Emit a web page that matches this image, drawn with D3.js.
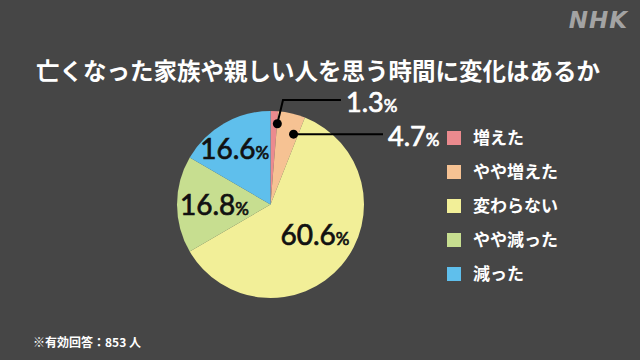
<!DOCTYPE html>
<html><head><meta charset="utf-8">
<script src="https://cdn.jsdelivr.net/npm/d3@7"></script>
<style>
html,body{margin:0;padding:0;background:#464646;}
svg{display:block;}
</style></head>
<body>
<svg id="chart" width="640" height="360"></svg>
<script>
const categories = ["増えた", "やや増えた", "変わらない", "やや減った", "減った"];
const values = [1.3, 4.7, 60.6, 16.8, 16.6];
const colors = ["#eb8a8e", "#f6c293", "#f2ef98", "#c7de90", "#5fbfec"];
const title = "亡くなった家族や親しい人を思う時間に変化はあるか";
const note = "※有効回答：853 人";

const W = 640, H = 360;
const cx = 270.5, cy = 204.5, R = 93.5;
const svg = d3.select("#chart");
svg.append("rect").attr("width", W).attr("height", H).attr("fill", "#464646");

const jp = "'Noto Sans CJK JP', 'Noto Sans', sans-serif";
const num = "Lato, 'Noto Sans', sans-serif";

// NHK logo
svg.append("text").attr("x", 628).attr("y", 28).attr("text-anchor", "end")
  .attr("font-family", "'DejaVu Sans', sans-serif").attr("font-weight", "bold")
  .attr("font-style", "italic").attr("font-size", 23).attr("fill", "#a3a3a3")
  .attr("letter-spacing", 1).text("NHK");

// title
svg.append("text").attr("x", 318).attr("y", 80).attr("text-anchor", "middle")
  .attr("font-family", jp).attr("font-weight", "bold").attr("font-size", 23.5)
  .attr("fill", "#ffffff").text(title);

// pie
const pie = d3.pie().sort(null).value(d => d)(values);
const arc = d3.arc().innerRadius(0).outerRadius(R);
const g = svg.append("g").attr("transform", `translate(${cx},${cy})`);
g.selectAll("path").data(pie).join("path")
  .attr("d", arc).attr("fill", (d, i) => colors[i]);

// inner labels (index, radius, angle tweak in degrees)
const inner = [{i: 2, r: 54, da: -6}, {i: 3, r: 56, da: 0}, {i: 4, r: 66, da: -3}];
inner.forEach(o => {
  const d = pie[o.i];
  const a = (d.startAngle + d.endAngle) / 2 + o.da * Math.PI / 180;
  const x = Math.sin(a) * o.r, y = -Math.cos(a) * o.r;
  const t = g.append("text").attr("x", x).attr("y", y + 10).attr("text-anchor", "middle")
    .attr("font-family", num).attr("font-size", 28).attr("fill", "#111")
    .attr("stroke", "#111").attr("stroke-width", 0.7);
  t.append("tspan").text(values[o.i].toFixed(1));
  t.append("tspan").attr("font-size", 17).text("%");
});

// callouts
const callouts = [
  {i: 0, r: 81, da: 2.5, path: (p) => [[p[0], p[1]], [283 - cx, 100 - cy], [341 - cx, 100 - cy]], tx: 346, ty: 112},
  {i: 1, r: 74, da: 5, path: (p) => [[p[0], p[1]], [383 - cx, p[1]]], tx: 388, ty: 146}
];
callouts.forEach(o => {
  const d = pie[o.i];
  const a = (d.startAngle + d.endAngle) / 2 + o.da * Math.PI / 180;
  const p = [Math.sin(a) * o.r, -Math.cos(a) * o.r];
  g.append("path").attr("d", d3.line()(o.path(p))).attr("fill", "none")
    .attr("stroke", "#000").attr("stroke-width", 2);
  g.append("circle").attr("cx", p[0]).attr("cy", p[1]).attr("r", 4.5).attr("fill", "#000");
  const t = svg.append("text").attr("x", o.tx).attr("y", o.ty)
    .attr("font-family", num).attr("font-size", 27).attr("fill", "#fff")
    .attr("stroke", "#fff").attr("stroke-width", 0.7);
  t.append("tspan").text(values[o.i].toFixed(1));
  t.append("tspan").attr("font-size", 17).text("%");
});

// legend
const lg = svg.append("g");
categories.forEach((c, i) => {
  const y = 138 + i * 34;
  lg.append("rect").attr("x", 447).attr("y", y - 7).attr("width", 14).attr("height", 14)
    .attr("fill", colors[i]);
  lg.append("text").attr("x", 473).attr("y", y + 6).attr("font-family", jp)
    .attr("font-weight", "bold").attr("font-size", 17).attr("fill", "#fff").text(c);
});

// note
svg.append("text").attr("x", 33).attr("y", 347).attr("font-family", jp)
  .attr("font-weight", "bold").attr("font-size", 12).attr("fill", "#fff").text(note);
</script>
</body></html>
